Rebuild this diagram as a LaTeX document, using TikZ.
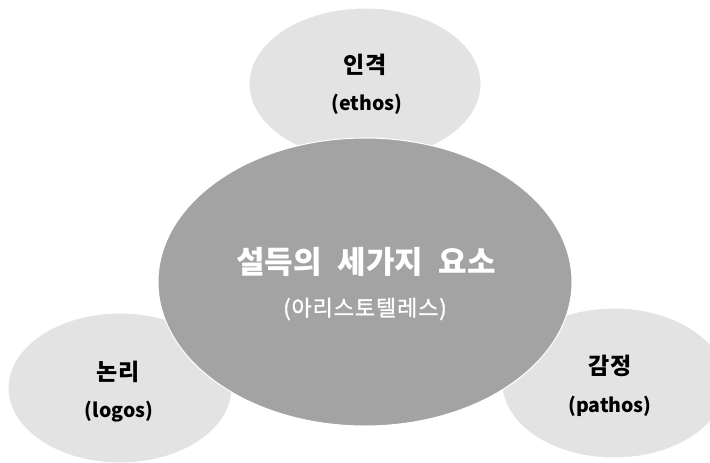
\documentclass[tikz,border=0pt]{standalone}
\usepackage{fontspec}
\newfontfamily\kr{Noto Sans CJK KR}
\newfontfamily\krsp[LetterSpace=4,FakeBold=1.2]{Noto Sans CJK KR}
\usetikzlibrary{shapes.geometric}
\begin{document}
\begin{tikzpicture}[x=1pt,y=-1pt,
  side/.style={ellipse,draw=white,line width=1pt,fill=black!11,inner sep=0pt},
  mainell/.style={ellipse,draw=white,line width=1pt,fill=black!36,inner sep=0pt},
  labk/.style={font=\kr\bfseries\fontsize{23}{26}\selectfont,text=black},
  lab/.style={font=\kr\bfseries\fontsize{19.5}{22}\selectfont,text=black},
  ttl/.style={font=\kr\bfseries\fontsize{31}{34}\selectfont,text=white},
  sub/.style={font=\krsp\fontsize{22}{26}\selectfont,text=white}]
\useasboundingbox (0,0) rectangle (710,463);
\begin{scope}
\clip (0,0) rectangle (710,463);
\node[side,minimum width=232,minimum height=152] (top) at (365,84) {};
\node[side,minimum width=224,minimum height=150] (left) at (120,388) {};
\node[side,minimum width=224,minimum height=150] (right) at (614,383) {};
\node[mainell,minimum width=414,minimum height=288] (main) at (365,282) {};
\end{scope}
\node[labk] (t1) at (365,65) {인격};
\node[lab] (t2) at (367,104) {(ethos)};
\node[labk] (l1) at (118,372) {논리};
\node[lab] (l2) at (119,412) {(logos)};
\node[labk] (r1) at (610,366) {감정};
\node[lab] (r2) at (610,406) {(pathos)};
\node[ttl] (m1) at (366,262) {설득의\hspace{0.5em}세가지\hspace{0.5em}요소};
\node[sub] (m2) at (365,309) {(아리스토텔레스)};
\end{tikzpicture}
\end{document}
